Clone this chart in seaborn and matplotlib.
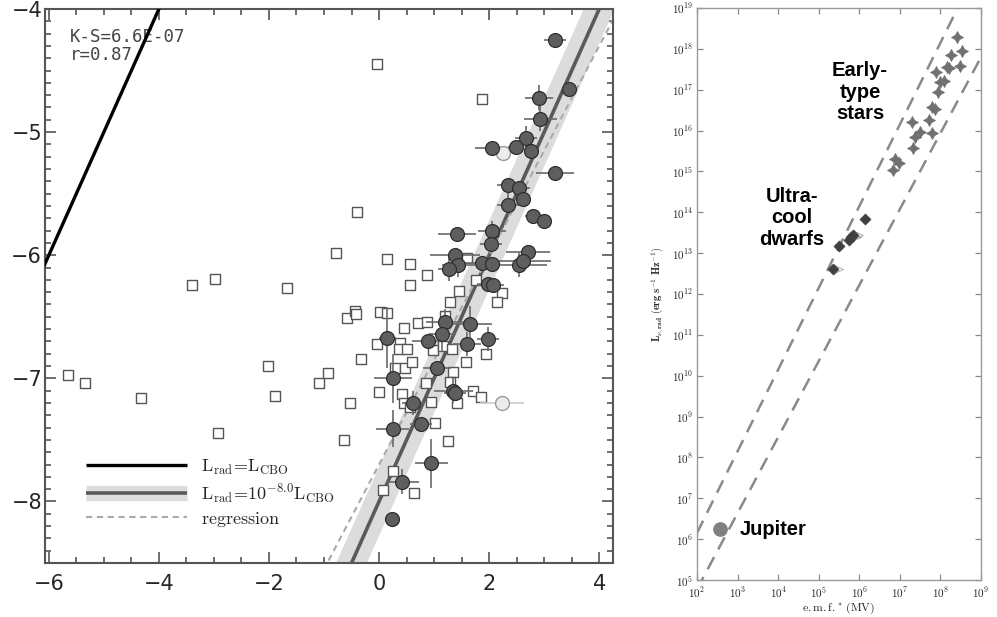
import numpy as np
import pandas as pd
import matplotlib
matplotlib.use("Agg")
import matplotlib.pyplot as plt
import seaborn as sns
from matplotlib.lines import Line2D
from matplotlib.ticker import MultipleLocator, FixedLocator, FixedFormatter

# ---------------- data: left panel ----------------
circ_x = [3.20, 3.45, 2.91, 2.93, 2.67, 2.05, 2.49, 2.76, 3.20, 2.35, 2.55, 2.62, 2.35, 2.80, 3.00,
          1.42, 2.05, 2.04, 1.38, 1.44, 1.27, 1.87, 2.05, 2.71, 2.55, 2.62, 1.98, 2.07, 1.20, 1.65,
          1.15, 0.89, 1.60, 1.98, 0.15, 1.05, 0.25, 1.35, 1.38, 0.62, 0.76, 0.25, 0.95, 0.42, 0.24]
circ_y = [-4.25, -4.65, -4.72, -4.89, -5.05, -5.13, -5.12, -5.15, -5.33, -5.43, -5.45, -5.54, -5.59, -5.68, -5.72,
          -5.83, -5.80, -5.91, -6.00, -6.08, -6.11, -6.06, -6.07, -5.97, -6.08, -6.05, -6.23, -6.24, -6.54, -6.56,
          -6.64, -6.70, -6.72, -6.68, -6.67, -6.92, -7.00, -7.10, -7.12, -7.20, -7.37, -7.41, -7.69, -7.84, -8.14]
circ_xerr = [0.20, 0.00, 0.25, 0.30, 0.20, 0.30, 0.15, 0.10, 0.35, 0.20, 0.20, 0.15, 0.20, 0.15, 0.15,
             0.35, 0.25, 0.20, 0.45, 0.30, 0.20, 0.30, 0.15, 0.40, 0.50, 0.50, 0.20, 0.20, 0.35, 0.40,
             0.25, 0.30, 0.25, 0.20, 0.15, 0.25, 0.35, 0.35, 0.20, 0.20, 0.20, 0.30, 0.30, 0.30, 0.10]
circ_yerr = [0.00, 0.00, 0.10, 0.10, 0.10, 0.00, 0.00, 0.00, 0.00, 0.00, 0.00, 0.00, 0.10, 0.00, 0.00,
             0.00, 0.08, 0.05, 0.05, 0.10, 0.10, 0.00, 0.00, 0.00, 0.10, 0.00, 0.00, 0.00, 0.10, 0.15,
             0.15, 0.00, 0.10, 0.10, 0.25, 0.05, 0.20, 0.10, 0.00, 0.10, 0.00, 0.15, 0.20, 0.10, 0.00]

light_x = [2.25, 2.24]
light_y = [-5.17, -7.20]
light_xerr = [0.00, 0.40]

sq_x = [-0.04, 1.87, -0.40, -0.78, 0.15, 0.56, 0.87, 0.56, 1.60, 1.45, 1.29, 2.24, 2.15, 1.76,
        -3.40, -2.98, -1.67, -5.65, -5.35, -4.33, -2.93, -2.02, -1.89, -1.09, -0.93,
        -0.58, -0.44, -0.42, 0.02, 0.15, 0.45, -0.04, 0.38, 0.36, 0.51, -0.33, -0.53, 0.00,
        0.29, 0.47, 0.60, 0.71, 0.87, 1.20, 0.98, 1.16, 1.33, 1.35, 1.29, 0.85, 0.42, 0.45,
        0.56, 0.95, 1.02, 1.42, 1.71, 1.85, 1.58, 1.95, -0.64, 1.25, 0.25, 0.07, 0.64]
sq_y = [-4.45, -4.73, -5.65, -5.98, -6.03, -6.07, -6.16, -6.24, -6.02, -6.29, -6.38, -6.31, -6.38, -6.20,
        -6.24, -6.19, -6.27, -6.97, -7.04, -7.16, -7.44, -6.90, -7.14, -7.04, -6.96,
        -6.51, -6.45, -6.48, -6.46, -6.47, -6.59, -6.72, -6.71, -6.76, -6.76, -6.84, -7.20, -7.11,
        -6.92, -6.92, -6.87, -6.55, -6.54, -6.49, -6.77, -6.74, -6.76, -6.95, -7.03, -7.04, -7.13, -7.20,
        -7.23, -7.19, -7.36, -7.20, -7.10, -7.15, -6.87, -6.80, -7.50, -7.51, -7.75, -7.91, -7.93]

ks_text = ["K-S=6.6E-07", "r=0.87"]
ratio_exp = -8.0          # L_rad = 10^-8 L_CBO
band_halfwidth = 0.28
reg_intercept, reg_slope = -7.70, 0.85

# ---------------- data: right panel (log10 values) ----------------
star_logE = [8.41, 8.53, 8.26, 8.16, 8.21, 8.48, 7.89, 8.09, 7.99, 7.94, 7.79, 7.87, 7.72, 7.79,
             7.30, 7.50, 7.37, 7.32, 6.88, 6.98, 6.83]
star_logL = [18.29, 17.95, 17.85, 17.56, 17.53, 17.58, 17.43, 17.21, 17.19, 16.94, 16.58, 16.53, 16.26, 15.94,
             16.21, 15.97, 15.84, 15.57, 15.30, 15.21, 15.04]
dwarf_logE = [6.14, 5.80, 5.85, 5.75, 5.50, 5.35]
dwarf_logL = [13.84, 13.40, 13.45, 13.32, 13.18, 12.61]
dwarf_limit = [False, True, True, False, False, True]
jup_logE, jup_logL = [2.57], [6.25]
# dashed envelope lines: (logE0, logL0, slope)
upper_line = (2.00, 6.15, 2.00)
lower_line = (2.12, 5.00, 1.86)

# ---------------- figure ----------------
sns.set_style("ticks")
plt.rcParams["font.family"] = ["DejaVu Sans"]
plt.rcParams["mathtext.fontset"] = "cm"

fig = plt.figure(figsize=(9.97, 6.17), dpi=100)
axL = fig.add_axes([0.0451, 0.0875, 0.5697, 0.8979])
axR = fig.add_axes([0.6991, 0.0600, 0.2849, 0.9271])

# ----- left panel -----
xl = np.linspace(-6.5, 4.5, 200)
axL.plot(xl, xl, color="black", lw=2.4, zorder=6, solid_capstyle="butt")
axL.fill_between(xl, xl + ratio_exp - band_halfwidth, xl + ratio_exp + band_halfwidth,
                 color="#dcdcdc", lw=0, zorder=1)
axL.plot(xl, xl + ratio_exp, color="#5a5a5a", lw=2.6, zorder=2)
axL.plot(xl, reg_intercept + reg_slope * xl, color="#aaaaaa", lw=1.5, ls=(0, (3, 2.2)), zorder=2)

sq_df = pd.DataFrame({"x": sq_x, "y": sq_y})
sns.scatterplot(data=sq_df, x="x", y="y", marker="s", s=50, facecolor="white",
                edgecolor="#555555", linewidth=1.0, ax=axL, zorder=3, legend=False)

axL.errorbar(circ_x, circ_y, xerr=circ_xerr, yerr=circ_yerr, fmt="none",
             ecolor="#6a6a6a", elinewidth=1.2, capsize=0, zorder=4)
axL.errorbar(light_x, light_y, xerr=light_xerr, fmt="none",
             ecolor="#cccccc", elinewidth=1.2, capsize=0, zorder=4)
light_df = pd.DataFrame({"x": light_x, "y": light_y})
sns.scatterplot(data=light_df, x="x", y="y", marker="o", s=100, facecolor="#ececec",
                edgecolor="#9a9a9a", linewidth=1.0, ax=axL, zorder=5, legend=False)
circ_df = pd.DataFrame({"x": circ_x, "y": circ_y})
sns.scatterplot(data=circ_df, x="x", y="y", marker="o", s=100, color="#5e5e5e",
                edgecolor="#2e2e2e", linewidth=0.9, ax=axL, zorder=5, legend=False)

axL.set_xlim(-6.07, 4.25)
axL.set_ylim(-8.5, -4.0)
axL.set_xlabel("")
axL.set_ylabel("")
axL.xaxis.set_major_locator(MultipleLocator(2))
axL.xaxis.set_minor_locator(MultipleLocator(0.5))
axL.yaxis.set_major_locator(MultipleLocator(1))
axL.yaxis.set_minor_locator(MultipleLocator(0.1))
axL.tick_params(which="both", direction="in", top=True, right=True, color="#555555", width=1.2)
axL.tick_params(which="major", length=8)
axL.tick_params(which="minor", length=4.5)
axL.tick_params(axis="y", which="major", labelsize=15, pad=2)
axL.tick_params(axis="x", which="major", labelsize=15, pad=8)
for sp in axL.spines.values():
    sp.set_color("#555555")
    sp.set_linewidth(1.5)

axL.text(0.044, 0.949, ks_text[0], transform=axL.transAxes, fontsize=12.5,
         family="DejaVu Sans Mono", color="#444444", va="center", ha="left", zorder=4)
axL.text(0.044, 0.917, ks_text[1], transform=axL.transAxes, fontsize=12.5,
         family="DejaVu Sans Mono", color="#444444", va="center", ha="left", zorder=4)

h1 = Line2D([], [], color="black", lw=2.4, solid_capstyle="butt")
h2 = (Line2D([], [], color="#dcdcdc", lw=11, solid_capstyle="butt"),
      Line2D([], [], color="#5a5a5a", lw=2.6, solid_capstyle="butt"))
h3 = Line2D([], [], color="#aaaaaa", lw=1.5, ls=(0, (3, 2.2)))
axL.legend([h1, h2, h3],
           [r"$\mathrm{L_{rad}\!=\!L_{CBO}}$",
            r"$\mathrm{L_{rad}\!=\!10^{-8.0}L_{CBO}}$",
            r"$\mathrm{regression}$"],
           loc="lower left", bbox_to_anchor=(0.072, 0.062), frameon=False,
           fontsize=13, handlelength=5.6, handletextpad=0.75, labelspacing=0.25,
           borderpad=0, borderaxespad=0)

# ----- right panel -----
gE = np.linspace(2, 9, 300)
for (e0, l0, sl) in (upper_line, lower_line):
    axR.plot(10 ** gE, 10 ** (l0 + sl * (gE - e0)), color="#8a8a8a", lw=1.8,
             ls=(0, (5.5, 3.5)), zorder=2)

star_df = pd.DataFrame({"E": 10 ** np.array(star_logE), "L": 10 ** np.array(star_logL)})
sns.scatterplot(data=star_df, x="E", y="L", marker=(4, 1, 0), s=75, color="#707070",
                edgecolor="#707070", linewidth=0.5, ax=axR, zorder=3, legend=False)
dE = 10 ** np.array(dwarf_logE)
dL = 10 ** np.array(dwarf_logL)
lim = np.array(dwarf_limit)
sns.scatterplot(x=dE[lim] * 1.3, y=dL[lim], marker=r"$>$", s=55, color="#8a8a8a",
                linewidth=0, ax=axR, zorder=3, legend=False)
sns.scatterplot(x=dE, y=dL, marker="D", s=32, color="#404040", edgecolor="#404040",
                ax=axR, zorder=4, legend=False)
sns.scatterplot(x=10 ** np.array(jup_logE), y=10 ** np.array(jup_logL), marker="o", s=95,
                color="#808080", edgecolor="#808080", ax=axR, zorder=4, legend=False)

axR.set_xscale("log")
axR.set_yscale("log")
axR.set_xlim(1e2, 1e9)
axR.set_ylim(1e5, 1e19)
xt = [10.0 ** k for k in range(2, 10)]
yt = [10.0 ** k for k in range(5, 20)]
axR.xaxis.set_major_locator(FixedLocator(xt))
axR.xaxis.set_major_formatter(FixedFormatter([r"$10^{%d}$" % k for k in range(2, 10)]))
axR.yaxis.set_major_locator(FixedLocator(yt))
axR.yaxis.set_major_formatter(FixedFormatter([r"$10^{%d}$" % k for k in range(5, 20)]))
axR.xaxis.set_minor_locator(FixedLocator([]))
axR.yaxis.set_minor_locator(FixedLocator([]))
axR.tick_params(which="major", direction="in", top=True, right=True, length=4,
                color="#888888", width=0.9, labelsize=8)
axR.tick_params(axis="x", pad=4)
axR.tick_params(axis="y", pad=3)
for sp in axR.spines.values():
    sp.set_color("#999999")
    sp.set_linewidth(1.0)
axR.set_xlabel(r"$\mathrm{e.m.f.^{*}\ (MV)}$", fontsize=8.5, labelpad=0)
axR.set_ylabel(r"$\mathbf{L_{\nu,rad}\ (erg\ s^{-1}\ Hz^{-1})}$", fontsize=7.5, labelpad=5)

lab_font = dict(family="Liberation Sans", fontweight="bold", fontsize=14.5, color="black",
                ha="center", va="center", linespacing=1.15)
axR.text(0.574, 0.853, "Early-\ntype\nstars", transform=axR.transAxes, **lab_font)
axR.text(0.335, 0.633, "Ultra-\ncool\ndwarfs", transform=axR.transAxes, **lab_font)
axR.text(0.150, 0.089, "Jupiter", transform=axR.transAxes,
         **{**lab_font, "ha": "left"})

fig.savefig("out.png", dpi=100)
